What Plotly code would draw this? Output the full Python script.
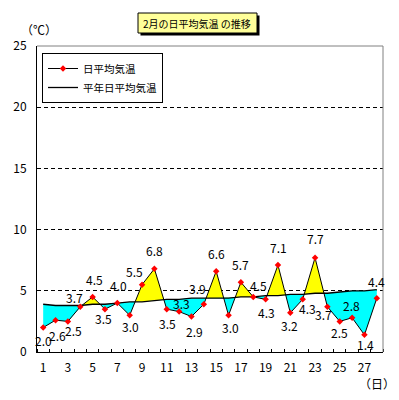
import plotly.graph_objects as go

days = list(range(1, 29))
actual = [2.0, 2.6, 2.5, 3.7, 4.5, 3.5, 4.0, 3.0, 5.5, 6.8, 3.5, 3.3, 2.9, 3.9,
          6.6, 3.0, 5.7, 4.5, 4.3, 7.1, 3.2, 4.3, 7.7, 3.7, 2.5, 2.8, 1.4, 4.4]
normal = [3.9, 3.8, 3.8, 3.8, 3.9, 3.9, 4.0, 4.1, 4.1, 4.2, 4.3, 4.3, 4.4, 4.4,
          4.4, 4.4, 4.5, 4.5, 4.6, 4.6, 4.7, 4.7, 4.8, 4.8, 4.9, 5.0, 5.0, 5.1]
xtick_vals = list(range(1, 28, 2))
ytick_vals = [0, 5, 10, 15, 20, 25]

# label offsets in px (styling only)
lab_dx = [0, 2, 6, -6, 2, -1, 1, 1, -8, 0, 1, 2, 3, -6,
          0, 2, 0, 5, 1, 1, -1, 5, 0, -4, 0, -1, 1, 0]
lab_dy = [-13, -15, -9, 9, 17, -9, 18, -11, 13, 18, -14, 8, -15, 16,
          18, -12, 18, 11, -13, 18, -13, -9, 19, -8, -11, 12, -10, 17]

FONT = "Noto Sans CJK JP, Noto Sans, sans-serif"

# build fill outlines (with crossing points between the two lines)
xr, up, lo, nr = [], [], [], []
n = len(days)
for i in range(n):
    xr.append(days[i]); up.append(max(actual[i], normal[i]))
    lo.append(min(actual[i], normal[i])); nr.append(normal[i])
    if i < n - 1:
        d0 = actual[i] - normal[i]
        d1 = actual[i + 1] - normal[i + 1]
        if d0 * d1 < 0:
            t = d0 / (d0 - d1)
            xc = days[i] + t * (days[i + 1] - days[i])
            yc = normal[i] + t * (normal[i + 1] - normal[i])
            xr.append(xc); up.append(yc); lo.append(yc); nr.append(yc)

fig = go.Figure()
fig.add_trace(go.Scatter(x=xr, y=nr, mode="lines", line=dict(width=0),
                         showlegend=False, hoverinfo="skip"))
fig.add_trace(go.Scatter(x=xr, y=up, mode="lines", line=dict(width=0),
                         fill="tonexty", fillcolor="#FFFF00",
                         showlegend=False, hoverinfo="skip"))
fig.add_trace(go.Scatter(x=xr, y=nr, mode="lines", line=dict(width=0),
                         showlegend=False, hoverinfo="skip"))
fig.add_trace(go.Scatter(x=xr, y=lo, mode="lines", line=dict(width=0),
                         fill="tonexty", fillcolor="#00FFFF",
                         showlegend=False, hoverinfo="skip"))
fig.add_trace(go.Scatter(x=days, y=normal, mode="lines", name="平年日平均気温",
                         line=dict(color="black", width=1.3), legendrank=2))
fig.add_trace(go.Scatter(x=days, y=actual, mode="lines+markers", name="日平均気温",
                         line=dict(color="black", width=1),
                         marker=dict(color="#FF0000", size=5, symbol="diamond"),
                         legendrank=1))

for d, v, dx, dy in zip(days, actual, lab_dx, lab_dy):
    fig.add_annotation(x=d, y=v, text=f"{v:.1f}", showarrow=False,
                       xanchor="center", yanchor="middle",
                       xshift=dx, yshift=dy, font=dict(size=12, color="black", family=FONT))

L, R, T, B = 37, 16, 46, 48
PW, PH = 399 - L - R, 400 - T - B

def px(xp):
    return (xp - L) / PW

def py(yp):
    return (400 - B - yp) / PH

shapes = [
    dict(type="rect", xref="paper", yref="paper", x0=px(140.5), x1=px(259.5),
         y0=py(35.5), y1=py(15.5), fillcolor="black", line=dict(width=0)),
    dict(type="rect", xref="paper", yref="paper", x0=px(138), x1=px(257),
         y0=py(33), y1=py(13), fillcolor="#FFFF99", line=dict(color="black", width=1)),
    dict(type="line", xref="paper", yref="paper", x0=0, x1=1, y0=1, y1=1,
         line=dict(color="#808080", width=1), layer="above"),
    dict(type="line", xref="paper", yref="paper", x0=1, x1=1, y0=0, y1=1,
         line=dict(color="#808080", width=1), layer="above"),
]

fig.add_annotation(xref="paper", yref="paper", x=px(197), y=py(23),
                   xanchor="center", yanchor="middle",
                   text="2月の日平均気温 の推移", showarrow=False,
                   font=dict(size=10, color="black", family=FONT))
fig.add_annotation(xref="paper", yref="paper", x=px(39), y=py(30),
                   xanchor="center", yanchor="middle",
                   text="（℃）", showarrow=False,
                   font=dict(size=12, color="black", family=FONT))
fig.add_annotation(xref="paper", yref="paper", x=px(377), y=py(383),
                   xanchor="center", yanchor="middle",
                   text="（日）", showarrow=False,
                   font=dict(size=12, color="black", family=FONT))

fig.update_layout(
    width=399, height=400,
    margin=dict(l=L, r=R, t=T, b=B),
    paper_bgcolor="white", plot_bgcolor="white",
    font=dict(family=FONT, size=12, color="black"),
    shapes=shapes,
    legend=dict(x=px(42), y=py(53), xanchor="left", yanchor="top",
                traceorder="normal",
                bordercolor="black", borderwidth=1, bgcolor="white",
                font=dict(size=10.5, family=FONT), itemwidth=30, tracegroupgap=0),
    xaxis=dict(range=[0.5, 28.5], tickmode="array", tickvals=xtick_vals,
               ticktext=[str(v) for v in xtick_vals], ticks="", showgrid=False,
               zeroline=False, showline=True, linecolor="black", linewidth=1,
               ticklabelstandoff=5,
               minor=dict(tickmode="linear", tick0=0.5, dtick=1, ticks="inside",
                          ticklen=3, tickcolor="black", showgrid=False)),
    yaxis=dict(range=[0, 25], tickmode="array", tickvals=ytick_vals, ticks="",
               showgrid=True, gridcolor="black", gridwidth=1, griddash="4px,3px",
               zeroline=False, showline=True, linecolor="black", linewidth=1,
               ticklabelstandoff=7),
)

fig.write_html("out.html")
